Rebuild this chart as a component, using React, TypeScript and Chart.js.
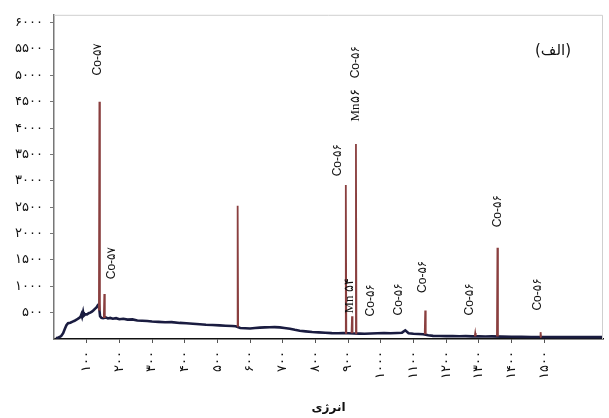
import React, { useEffect, useRef } from "react";
import { Chart, registerables } from "chart.js";
Chart.register(...registerables);

const xTickValues = [100, 200, 300, 400, 500, 600, 700, 800, 900, 1000, 1100, 1200, 1300, 1400, 1500];
const yTickValues = [500, 1000, 1500, 2000, 2500, 3000, 3500, 4000, 4500, 5000, 5500, 6000];
const xAxisTitle = "انرژی";
const panelLabel = "(الف)";

const continuumEnergy = [
  6, 14, 22, 28, 33, 38, 43, 50, 57, 63, 70, 76, 81, 84, 86, 89, 91, 96, 101, 106, 111, 116, 121, 126, 130, 134, 137,
  141, 145, 150, 158, 165, 172, 180, 190, 200, 212, 225, 240, 255, 270, 285, 300, 320, 340, 360, 385, 405, 425, 446,
  465, 485, 507, 525, 545, 556, 570, 585, 600, 615, 630, 645, 660, 675, 691, 705, 722, 737, 752, 770, 790, 810, 830,
  850, 870, 885, 900, 918, 935, 950, 970, 990, 1010, 1030, 1050, 1065, 1075, 1085, 1100, 1115, 1130, 1145, 1160, 1180,
  1200, 1220, 1240, 1260, 1280, 1300, 1320, 1340, 1370, 1400, 1430, 1460, 1500, 1540, 1580, 1620, 1660, 1680,
];
const continuumCounts = [
  15, 30, 55, 110, 190, 260, 300, 310, 330, 345, 370, 395, 420, 470, 425, 510, 440, 470, 465, 490, 500, 520, 545, 575, 600, 640, 660,
  430, 400, 395, 410, 390, 400, 385, 395, 375, 385, 368, 372, 350, 345, 340, 332, 325, 318, 320, 305, 300, 290, 280,
  270, 265, 258, 252, 248, 242, 210, 205, 200, 208, 215, 220, 222, 225, 220, 210, 195, 175, 158, 145, 132, 125, 118,
  112, 110, 112, 108, 105, 102, 100, 105, 110, 112, 108, 115, 120, 165, 110, 100, 95, 90, 70, 60, 58,
  55, 57, 52, 55, 50, 52, 48, 50, 45, 42, 40, 38, 37, 36, 35, 36, 35, 35,
];

const peakEnergy = [139, 154, 562, 893, 912, 924, 1136, 1289, 1357, 1489];
const peakCounts = [4500, 855, 2530, 2920, 430, 3700, 540, 115, 1730, 130];
const peakBaseCounts = [540, 400, 240, 110, 108, 105, 90, 52, 48, 38];

const annotationTexts = [
  "Co-۵۷", "Co-۵۷", "Co-۵۶", "Mn۵۶", "Co-۵۶", "Mn ۵۴", "Co-۵۶", "Co-۵۶", "Co-۵۶", "Co-۵۶", "Co-۵۶", "Co-۵۶",
];
const annotationEnergy = [133, 176, 869, 924, 924, 906, 970, 1056, 1127, 1271, 1357, 1480];
const annotationCounts = [5000, 1134, 3086, 4126, 4944, 483, 428, 446, 874, 446, 2119, 539];
const annotationSerif = [false, false, false, true, false, true, false, false, false, false, false, false];

const toPersian = (n: number) => String(n).replace(/\d/g, (d) => "۰۱۲۳۴۵۶۷۸۹"[+d]);

export default function App() {
  const ref = useRef<HTMLCanvasElement | null>(null);
  useEffect(() => {
    if (!ref.current) return;
    const continuumData = continuumEnergy.map((e, i) => ({ x: e, y: continuumCounts[i] }));
    const peakData: { x: number; y: number | null }[] = [];
    peakEnergy.forEach((e, i) => {
      peakData.push({ x: e - 1.5, y: peakBaseCounts[i] });
      peakData.push({ x: e, y: peakCounts[i] });
      peakData.push({ x: e + 1.5, y: peakBaseCounts[i] });
      peakData.push({ x: e + 2, y: null });
    });

    const annotationPlugin = {
      id: "annots",
      afterDatasetsDraw(chart: any) {
        const { ctx, scales, chartArea } = chart;
        ctx.save();
        ctx.strokeStyle = "#cfcfcf";
        ctx.lineWidth = 1;
        ctx.beginPath();
        ctx.moveTo(chartArea.left, chartArea.top + 0.5);
        ctx.lineTo(chartArea.right - 0.5, chartArea.top + 0.5);
        ctx.lineTo(chartArea.right - 0.5, chartArea.bottom);
        ctx.stroke();
        ctx.fillStyle = "#111";
        ctx.textBaseline = "middle";
        ctx.textAlign = "left";
        annotationTexts.forEach((t, i) => {
          const px = scales.x.getPixelForValue(annotationEnergy[i]);
          const py = scales.y.getPixelForValue(annotationCounts[i]);
          ctx.save();
          ctx.translate(px, py);
          ctx.rotate(-Math.PI / 2);
          ctx.font = annotationSerif[i]
            ? "13px 'Liberation Serif', 'DejaVu Serif', serif"
            : "12px 'Liberation Sans', 'DejaVu Sans', sans-serif";
          ctx.fillText(t, 0, 0);
          ctx.restore();
        });
        ctx.font = "15px 'DejaVu Sans', sans-serif";
        ctx.textAlign = "center";
        ctx.fillText(panelLabel, chartArea.right - 50, chartArea.top + 36);
        ctx.restore();
      },
    };

    const chart = new Chart(ref.current, {
      type: "line",
      data: {
        datasets: [
          {
            data: peakData,
            borderColor: "#8a3f3f",
            borderWidth: 1.8,
            pointRadius: 0,
            spanGaps: false,
            tension: 0,
          },
          {
            data: continuumData,
            borderColor: "#1a1c40",
            borderWidth: 2.6,
            pointRadius: 0,
            tension: 0,
          },
        ],
      },
      options: {
        animation: false,
        responsive: true,
        maintainAspectRatio: false,
        layout: { padding: { top: 8, right: 6, left: 0, bottom: 0 } },
        plugins: { legend: { display: false }, tooltip: { enabled: false } },
        scales: {
          x: {
            type: "linear",
            min: 0,
            max: 1680,
            afterBuildTicks: (s: any) => {
              s.ticks = xTickValues.map((v) => ({ value: v }));
            },
            afterFit: (s: any) => {
              s.height = 79;
            },
            ticks: {
              autoSkip: false,
              minRotation: 90,
              maxRotation: 90,
              padding: 8,
              color: "#111",
              font: { family: "'DejaVu Sans', sans-serif", size: 13 },
              callback: (v: any) => toPersian(Number(v)),
            },
            grid: { display: true, drawOnChartArea: false, tickLength: 4, color: "#555" },
            border: { display: true, color: "#111", width: 1.5 },
            title: {
              display: true,
              text: xAxisTitle,
              color: "#111",
              font: { family: "'DejaVu Sans', sans-serif", size: 12, weight: "bold" },
              padding: { top: 4, bottom: 3 },
            },
          },
          y: {
            type: "linear",
            min: 0,
            max: 6150,
            afterBuildTicks: (s: any) => {
              s.ticks = yTickValues.map((v) => ({ value: v }));
            },
            afterFit: (s: any) => {
              s.width = 54;
            },
            ticks: {
              padding: 7,
              color: "#111",
              font: { family: "'DejaVu Sans', sans-serif", size: 13 },
              callback: (v: any) => toPersian(Number(v)),
            },
            grid: { display: true, drawOnChartArea: false, tickLength: 4, color: "#777" },
            border: { display: true, color: "#777", width: 1.5 },
          },
        },
      },
      plugins: [annotationPlugin],
    });
    return () => chart.destroy();
  }, []);

  return (
    <div style={{ position: "fixed", left: 0, top: 0, width: 609, height: 418, background: "#fff" }}>
      <canvas ref={ref} />
    </div>
  );
}
